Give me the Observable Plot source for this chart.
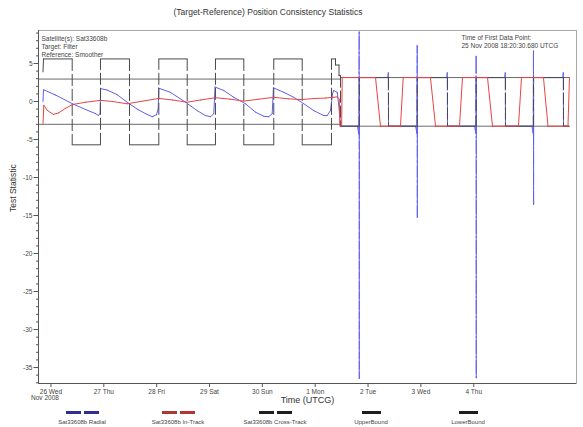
<!DOCTYPE html>
<html><head><meta charset="utf-8">
<script src="https://cdn.jsdelivr.net/npm/d3@7"></script>
<script src="https://cdn.jsdelivr.net/npm/@observablehq/plot@0.6"></script>
<style>
body{margin:0;background:#fff;font-family:"Liberation Sans",Arial,sans-serif;color:#333;}
#wrap{position:relative;width:583px;height:427px;overflow:hidden}
#title{position:absolute;left:0;top:0;width:536px;height:22px;line-height:25px;text-align:center;font-size:8.5px;color:#333}
#chart{position:absolute;left:0;top:22px;}
#legend{position:absolute;left:0;top:407px;width:583px;height:20px;}
.item{position:absolute;top:0;width:110px;margin-left:-55px;text-align:center;font-size:6px;color:#444}
.sw{display:flex;justify-content:center;gap:3px;height:3px;margin-top:4px}
.sw span{display:block;width:15px;height:3px}
.sw.single span{width:19px}
.lab{margin-top:4px;line-height:8px}
</style></head><body>
<div id="wrap">
  <div id="title"></div>
  <div id="chart"></div>
  <div id="legend"></div>
</div>
<script>
// ---------- data (time in days from 26 Nov 2008 00:00 UTCG, value = test statistic) ----------
const title = "(Target-Reference) Position Consistency Statistics";
const infoLeft = ["Satellite(s): Sat33608b", "Target: Filter", "Reference: Smoother"];
const infoRight = ["Time of First Data Point:", "25 Nov 2008 18:20:30.680 UTCG"];
const xLabel = "Time (UTCG)";
const yLabel = "Test Statistic";
const xTickDays = [0, 1, 2, 3, 4, 5, 6, 7, 8];
const xTickLabels = ["26 Wed", "27 Thu", "28 Fri", "29 Sat", "30 Sun", "1 Mon", "2 Tue", "3 Wed", "4 Thu"];
const xSubLabel = "Nov 2008";
const yMajor = [5, 0, -5, -10, -15, -20, -25, -30, -35];
const yMinor = d3.range(-37, 10, 1);
const xDomainDays = [-0.2357, 9.944];
const yDomain = [-37.1, 9.34];

const seriesNames = ["Sat33608b Radial", "Sat33608b In-Track", "Sat33608b Cross-Track", "UpperBound", "LowerBound"];

const radial = [
 [-0.151, 0.0], [-0.141, 1.55], [0.086, 0.85], [0.408, -0.3], [0.654, -1.05], [0.843, -1.6], [0.900, -1.85], [0.930, -1.55],
 [0.940, 1.7], [1.064, 1.5], [1.253, 0.9], [1.443, -0.1], [1.632, -1.0], [1.789, -1.6], [1.916, -2.0], [1.997, -1.75], [2.030, -0.9],
 [2.040, 1.75], [2.262, 1.2], [2.546, -0.1], [2.767, -1.2], [2.924, -1.85], [3.019, -2.0], [3.081, -1.6],
 [3.105, 1.9], [3.270, 1.45], [3.460, 0.55], [3.681, -0.3], [3.870, -1.4], [4.027, -1.95], [4.122, -2.0], [4.186, -1.6],
 [4.210, 1.8], [4.406, 1.2], [4.595, 0.55], [4.784, -0.3], [4.973, -1.2], [5.162, -1.85], [5.227, -1.85], [5.289, -1.2],
 [5.330, 1.1], [5.352, 1.45], [5.416, 1.2], [5.446, -0.5], [5.479, -3.25],
 [5.800, -3.25], [5.825, -4.3], [5.832, 9.2], [5.834, -36.5], [5.836, 3.15],
 [6.375, 3.15], [6.383, 3.8], [6.387, -3.25],
 [6.900, -3.25], [6.924, -4.2], [6.930, 7.4], [6.932, -15.3], [6.934, 3.15],
 [7.490, 3.15], [7.499, 3.8], [7.503, -3.25],
 [8.015, -3.25], [8.039, -4.2], [8.045, 6.0], [8.047, -36.4], [8.049, 3.15],
 [8.588, 3.15], [8.596, 3.8], [8.600, -3.25],
 [9.100, -3.25], [9.124, -4.2], [9.130, 6.7], [9.132, -13.6], [9.134, 3.15],
 [9.686, 3.15], [9.694, 3.8], [9.698, -3.25], [9.790, -3.25]
];

const inTrack = [
 [-0.151, -2.9], [-0.135, -0.5], [-0.065, -1.2], [0.048, -1.7], [0.143, -1.5], [0.275, -0.9], [0.408, -0.4],
 [0.654, -0.1], [0.937, 0.15], [1.164, 0.0], [1.443, -0.3], [1.694, 0.0], [2.041, 0.4], [2.300, 0.2], [2.578, -0.1],
 [2.830, 0.2], [3.113, 0.5], [3.397, 0.3], [3.649, 0.05], [3.927, 0.3], [4.216, 0.55], [4.495, 0.35], [4.722, 0.25],
 [5.005, 0.4], [5.195, 0.45], [5.352, 0.55], [5.416, 0.6], [5.455, 0.3], [5.469, -3.2], [5.500, -3.2], [5.511, 3.15],
 [6.141, 3.15], [6.235, -3.25], [6.614, -3.25], [6.665, 3.15], [7.181, 3.15], [7.276, -3.25], [7.730, -3.25],
 [7.787, 3.15], [8.260, 3.15], [8.355, -3.25], [8.846, -3.25], [8.903, 3.15], [9.319, 3.15], [9.405, -3.25],
 [9.783, -3.25], [9.811, 3.15]
];

const crossTrack = [
 [-0.151, 3.9], [-0.141, 5.6], [0.402, 5.6], [0.402, -5.7], [0.937, -5.7], [0.937, 5.6], [1.486, 5.6], [1.486, -5.7],
 [2.041, -5.7], [2.041, 5.6], [2.578, 5.6], [2.578, -5.7], [3.113, -5.7], [3.113, 5.6], [3.649, 5.6], [3.649, -5.7],
 [4.216, -5.7], [4.216, 5.6], [4.754, 5.6], [4.754, -5.7], [5.308, -5.7], [5.308, 5.6], [5.384, 5.6], [5.384, 4.8],
 [5.450, 4.8], [5.450, 3.4], [5.479, 3.4], [5.479, -3.25],
 [5.835, -3.25], [5.835, 3.15], [6.387, 3.15], [6.387, -3.25], [6.930, -3.25], [6.930, 3.15], [7.503, 3.15], [7.503, -3.25],
 [8.045, -3.25], [8.045, 3.15], [8.600, 3.15], [8.600, -3.25], [9.130, -3.25], [9.130, 3.15], [9.698, 3.15], [9.698, -3.25],
 [9.790, -3.25]
];

const upperBound = [[-0.2357, 2.95], [5.479, 2.95], [5.479, 3.15], [9.811, 3.15]];
const lowerBound = [[-0.2357, -3.0], [5.479, -3.0], [5.479, -3.25], [9.811, -3.25]];

// ---------- styles ----------
const lineColors = ["#6060f0", "#e64646", "#4a4a4a", "#6a6a6a", "#6a6a6a"];
const legendColors = ["#2e2e96", "#b03535", "#1e1e1e", "#1e1e1e", "#1e1e1e"];

const BASE = Date.UTC(2008, 10, 26);
const toDate = d => new Date(BASE + d * 864e5);

function segs(arr) {
  const out = [];
  for (let i = 1; i < arr.length; i++) {
    const [t1, v1] = arr[i - 1], [t2, v2] = arr[i];
    out.push({x1: toDate(t1), y1: v1, x2: toDate(t2), y2: v2,
      vertical: Math.abs(t2 - t1) < 0.008 && Math.abs(v2 - v1) > 1.5});
  }
  return out;
}
function seriesMarks(arr, color, dash) {
  const s = segs(arr);
  const ch = {x1: "x1", y1: "y1", x2: "x2", y2: "y2", stroke: color, strokeWidth: 1, clip: true};
  return [
    Plot.link(s.filter(d => !d.vertical), {...ch, strokeLinecap: "round"}),
    Plot.link(s.filter(d => d.vertical), {...ch, strokeDasharray: dash})
  ];
}
const boundMark = (arr, color) => Plot.line(arr, {x: d => toDate(d[0]), y: d => d[1], stroke: color, strokeWidth: 1});

const tickMap = new Map(xTickDays.map((d, i) => [+toDate(d), xTickLabels[i]]));

const chart = Plot.plot({
  width: 583,
  height: 385,
  marginTop: 8,
  marginLeft: 38,
  marginRight: 7,
  marginBottom: 24,
  style: {fontFamily: '"Liberation Sans", Arial, sans-serif', background: "#fff", color: "#444"},
  x: {type: "utc", domain: xDomainDays.map(toDate), label: null},
  y: {domain: yDomain, label: null},
  marks: [
    Plot.frame({stroke: "#a8a8a8"}),
    boundMark(upperBound, lineColors[3]),
    boundMark(lowerBound, lineColors[4]),
    ...seriesMarks(radial, lineColors[0], "18,2"),
    ...seriesMarks(crossTrack, lineColors[2], "12,3"),
    ...seriesMarks(inTrack, lineColors[1], "12,3"),
    Plot.ruleX([toDate(xDomainDays[0])], {stroke: "#555"}),
    Plot.ruleY([yDomain[0]], {stroke: "#555"}),
    Plot.axisY({ticks: yMinor, tickSize: 2, tickFormat: () => "", stroke: "#555", label: null}),
    Plot.axisY({ticks: yMajor, tickSize: 4.5, tickPadding: 1.5, fontSize: 6.5, tickFormat: d => String(d), stroke: "#555", fill: "#444", label: null}),
    Plot.axisX({ticks: xTickDays.map(toDate), tickSize: 4, tickPadding: 2, fontSize: 6.5, tickFormat: d => tickMap.get(+d) ?? "", stroke: "#555", fill: "#444", label: null}),
    Plot.text([xSubLabel], {x: () => toDate(xTickDays[0]), frameAnchor: "bottom", dy: 16.5, dx: -6, fontSize: 6.5, fill: "#444"}),
    Plot.text([xLabel], {frameAnchor: "bottom", dy: 19.5, fontSize: 9, fill: "#333"}),
    Plot.text([yLabel], {frameAnchor: "left", dx: -25, dy: 5, rotate: -90, fontSize: 8.5, fill: "#333"}),
    Plot.text([infoLeft.join("\n")], {frameAnchor: "top-left", dx: 3, dy: 5, textAnchor: "start", lineAnchor: "top", lineHeight: 1.23, fontSize: 6.5, fill: "#444"}),
    Plot.text([infoRight.join("\n")], {frameAnchor: "top-right", dx: -115, dy: 4, textAnchor: "start", lineAnchor: "top", lineHeight: 1.18, fontSize: 6.5, fill: "#444"})
  ]
});
document.getElementById("chart").appendChild(chart);
document.getElementById("title").textContent = title;

// legend
const legendCenters = [82, 178, 275, 371, 468];
const legend = document.getElementById("legend");
seriesNames.forEach((name, i) => {
  const item = document.createElement("div");
  item.className = "item";
  item.style.left = legendCenters[i] + "px";
  const sw = document.createElement("div");
  sw.className = "sw" + (i >= 3 ? " single" : "");
  const n = i >= 3 ? 1 : 2;
  for (let k = 0; k < n; k++) {
    const s = document.createElement("span");
    s.style.background = legendColors[i];
    sw.appendChild(s);
  }
  const lab = document.createElement("div");
  lab.className = "lab";
  lab.textContent = name;
  item.appendChild(sw);
  item.appendChild(lab);
  legend.appendChild(item);
});
</script>
</body></html>
